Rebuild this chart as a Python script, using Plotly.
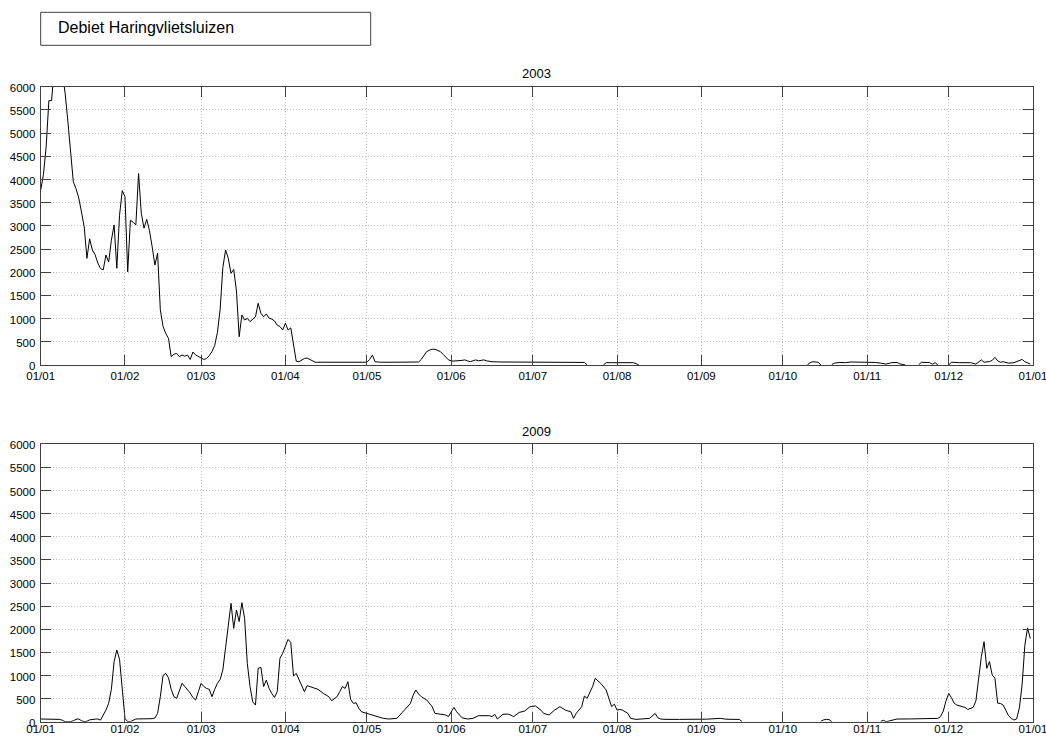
import pandas as pd
import plotly.graph_objects as go

# ---- data (day-of-year offsets from 1 Jan, discharge m3/s); None = no data ----
days_2003 = [0,1,2,3,4,5,6,7,8,9,10,11,12,13,14,15,16,17,18,19,20,21,22,23,24,25,26,27,28,29,
             30,31,32,33,34,35,36,37,38,39,40,41,42,43,44,45,46,47,48,49,50,51,52,53,54,55,56,57,58,59,
             60,61,62,63,64,65,66,67,68,69,70,71,72,73,74,75,76,77,78,79,80,81,82,83,84,85,86,87,88,89,
             90,91,92,93,94,95,96,97,98,99,100,101,105,110,115,120,121,122,123,125,130,135,139,140,141,142,143,144,145,146,
             147,148,149,150,151,152,155,156,157,158,159,160,161,162,163,164,166,170,180,190,195,200,201,203,
             207,208,210,213,216,218,219,220,221,
             282,283,284,286,287,288,
             291,292,294,296,298,300,302,304,306,307,309,311,313,315,316,318,319,
             323,324,327,328,329,330,331,
             334,335,338,341,342,344,346,347,349,350,351,352,353,354,356,358,361,362,363,364]
flow_2003 = [3770,4100,4700,5700,5700,6400,6600,6500,6300,5850,5250,4600,3950,3800,3600,3300,2980,2300,2720,2480,2380,2200,2080,2050,2370,2220,2690,3020,2085,3230,
             3760,3630,2010,3120,3080,3020,4130,3270,2950,3140,2900,2550,2155,2410,1190,830,680,575,180,230,250,180,215,190,215,120,280,215,180,150,
             120,140,200,290,420,700,1200,2100,2480,2300,1975,2060,1600,610,1080,970,1005,935,985,1040,1330,1115,1040,1100,1010,990,950,860,830,755,
             900,755,800,400,80,70,110,140,150,120,80,60,60,55,60,60,120,215,70,60,60,60,65,120,215,290,320,340,340,320,
             290,230,180,110,90,85,100,110,90,70,90,110,90,100,110,90,70,65,65,60,60,55,0,None,
             0,50,50,55,45,50,30,0,None,
             0,50,70,60,0,None,
             10,40,55,50,65,65,65,60,70,55,40,20,50,55,25,0,None,
             10,60,50,15,50,0,None,
             0,60,50,40,50,20,110,60,75,100,165,90,60,70,40,50,120,70,40,20]

days_2009 = [0,2,4,6,7,8,9,10,11,12,13,14,15,16,17,18,19,20,21,22,23,24,25,26,27,28,29,30,31,32,33,34,35,36,38,40,41,42,43,44,45,46,47,48,49,
             50,51,52,53,54,55,56,57,58,59,60,61,62,63,64,65,66,67,68,69,70,71,72,73,74,75,76,77,78,79,80,81,82,83,84,85,86,87,88,89,
             90,91,92,93,94,95,96,97,98,99,100,102,104,106,107,109,110,111,112,113,114,115,116,117,118,120,122,124,126,128,130,131,133,135,136,137,138,139,140,
             142,144,145,147,149,150,151,152,153,155,157,159,161,163,165,166,167,168,170,172,174,176,178,180,182,184,185,187,189,191,193,195,196,197,199,
             200,201,203,204,205,206,208,209,210,211,212,213,214,216,217,219,221,223,224,226,227,228,230,235,240,245,250,252,255,257,258,259,
             287,288,289,290,291,292,
             309,310,311,313,315,320,325,329,330,331,332,333,334,335,336,337,338,339,340,341,342,343,344,345,346,347,348,349,350,351,352,353,354,
             355,356,357,358,359,360,361,362,363,364]
flow_2009 = [58,55,60,55,50,30,0,0,0,20,50,60,20,0,10,40,55,55,60,35,145,250,400,700,1300,1550,1350,700,70,0,0,30,58,60,60,60,65,80,180,540,1000,1045,950,700,540,
             505,685,830,760,700,620,520,470,650,830,760,720,700,540,700,830,915,1120,1600,2130,2560,2020,2415,2165,2575,2235,1260,760,430,360,1155,1175,760,900,720,610,525,650,1370,1480,
             1620,1780,1710,990,1045,900,760,650,780,760,740,700,610,540,455,540,650,760,720,865,485,395,410,290,215,180,145,110,72,58,72,72,200,325,395,575,685,600,540,
             470,325,180,165,145,110,200,310,215,85,58,72,130,130,130,110,160,58,160,165,110,200,230,325,340,250,180,145,250,325,250,215,72,180,325,
             555,505,760,940,880,830,685,505,325,380,250,265,250,180,72,50,55,58,72,180,85,58,50,50,50,55,72,55,50,50,0,None,
             10,40,50,45,0,None,
             10,30,0,30,58,60,58,60,72,110,230,450,610,520,400,360,345,320,310,265,290,310,450,1000,1405,1730,1155,1300,1010,940,400,395,360,
             250,130,72,36,60,300,800,1650,2030,1800]

years = ["2003", "2009"]
main_title = "Debiet Haringvlietsluizen"

W, H = 1046, 737
x_left, x_right = 40.7, 1033.0
panels = [(86.7, 365.0), (444.3, 721.7)]  # pixel top/bottom of each plot area
x_standoff = [0, -4]

def to_dates(year, days):
    base = pd.Timestamp(f"{year}-01-01")
    return base + pd.to_timedelta(days, unit="D")

fig = go.Figure()
series = [(days_2003, flow_2003), (days_2009, flow_2009)]
for i, (yr, (d, v)) in enumerate(zip(years, series)):
    fig.add_trace(go.Scatter(
        x=to_dates(yr, d), y=v, mode="lines",
        line=dict(color="black", width=1), connectgaps=False,
        xaxis="x" if i == 0 else "x2", yaxis="y" if i == 0 else "y2",
        showlegend=False, hoverinfo="skip"))

FAM = "Liberation Sans, Arial, sans-serif"
font = dict(family=FAM, size=11.5, color="black")
axis_common = dict(
    showline=True, linecolor="#404040", linewidth=1, mirror="ticks",
    ticks="inside", ticklen=10, tickcolor="#404040", tickwidth=1,
    showgrid=True, gridcolor="#c4c4c4", griddash="1px,2px", gridwidth=1,
    zeroline=False, tickfont=font, automargin=False, ticklabeloverflow="allow",
)

layout = dict(
    width=W, height=H, margin=dict(l=0, r=0, t=0, b=0, autoexpand=False),
    paper_bgcolor="white", plot_bgcolor="white", font=font,
)
for i, yr in enumerate(years):
    top, bot = panels[i]
    xd = [x_left / W, x_right / W]
    yd = [1 - bot / H, 1 - top / H]
    sfx = "" if i == 0 else "2"
    layout["xaxis" + sfx] = dict(
        axis_common, domain=xd, type="date",
        range=[f"{yr}-01-01", f"{int(yr)+1}-01-01 00:05"],
        dtick="M1", tick0=f"{yr}-01-01", tickformat="%d/%m",
        anchor="y" + sfx, ticklabelstandoff=x_standoff[i],
    )
    layout["yaxis" + sfx] = dict(
        axis_common, domain=yd, range=[0, 6000], dtick=500,
        anchor="x" + sfx, ticklabelstandoff=2, ticklabelshift=1,
    )
fig.update_layout(**layout)

# title box
fig.add_shape(type="rect", xref="paper", yref="paper",
              x0=40.7 / W, x1=370.7 / W, y0=1 - 45.3 / H, y1=1 - 12.3 / H,
              line=dict(color="#404040", width=1), fillcolor="white")
fig.add_annotation(text=main_title, xref="paper", yref="paper",
                   x=55.5 / W, y=1 - 27.5 / H, xanchor="left", yanchor="middle",
                   showarrow=False, font=dict(family=FAM, size=16, color="black"))
# panel titles
for i, yr in enumerate(years):
    ypix = [73.5, 431.0][i]
    fig.add_annotation(text=yr, xref="paper", yref="paper",
                       x=(x_left + x_right) / 2 / W, y=1 - ypix / H,
                       xanchor="center", yanchor="middle", showarrow=False,
                       font=dict(family=FAM, size=13, color="black"))

fig.write_html("out.html")
